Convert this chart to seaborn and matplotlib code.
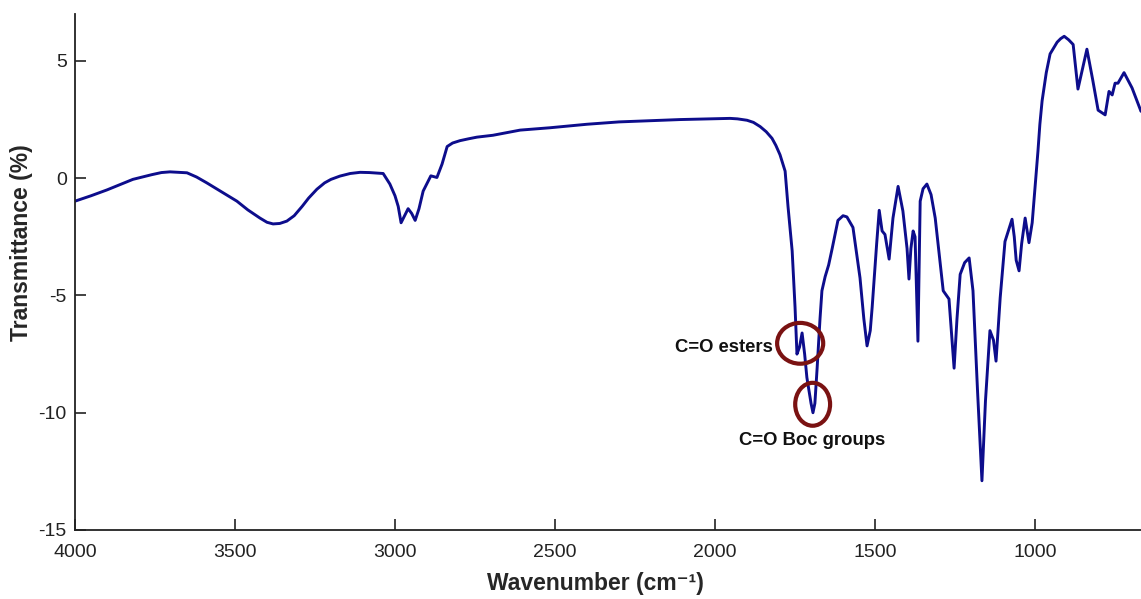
import numpy as np
import pandas as pd
import matplotlib
matplotlib.use("Agg")
import matplotlib.pyplot as plt
from matplotlib.patches import Ellipse
import seaborn as sns

# -----------------------------
# FTIR spectrum
# -----------------------------
wavenumber = [
    4000, 3950, 3900, 3860, 3819, 3760, 3730, 3703, 3650, 3620, 3588, 3540,
    3494, 3460, 3422, 3400, 3381, 3360, 3338, 3315, 3290, 3270, 3244, 3220,
    3200, 3172, 3140, 3109, 3080, 3060, 3037, 3016, 3000, 2990, 2981, 2970,
    2959, 2948, 2937, 2925, 2912, 2888, 2869, 2853, 2837, 2820, 2797, 2770,
    2744, 2694, 2609, 2516, 2400, 2300, 2203, 2109, 2050, 1953, 1930, 1900,
    1880, 1859, 1840, 1822, 1810, 1797, 1790, 1781, 1772, 1759, 1750, 1744,
    1736, 1728, 1720, 1713, 1700, 1694, 1688, 1681, 1672, 1666, 1656, 1645,
    1634, 1616, 1600, 1588, 1569, 1547, 1535, 1525, 1515, 1509, 1495, 1487,
    1478, 1469, 1456, 1444, 1428, 1413, 1400, 1394, 1388, 1381, 1375, 1366,
    1359, 1350, 1338, 1325, 1312, 1300, 1287, 1269, 1253, 1244, 1234, 1220,
    1206, 1194, 1180, 1166, 1155, 1141, 1130, 1122, 1109, 1094, 1072, 1065,
    1059, 1050, 1042, 1031, 1019, 1009, 991, 985, 978, 965, 953, 940,
    931, 920, 909, 895, 881, 866, 838, 820, 803, 781, 769, 759,
    750, 741, 722, 697, 669,
]
transmittance = [
    -0.98, -0.75, -0.5, -0.28, -0.05, 0.15, 0.24, 0.27, 0.23, 0.05, -0.2, -0.6,
    -0.98, -1.35, -1.7, -1.88, -1.95, -1.93, -1.83, -1.6, -1.2, -0.85, -0.47, -0.2,
    -0.05, 0.09, 0.2, 0.25, 0.24, 0.22, 0.2, -0.25, -0.75, -1.2, -1.9, -1.6,
    -1.3, -1.5, -1.8, -1.3, -0.55, 0.1, 0.03, 0.6, 1.35, 1.5, 1.6, 1.68,
    1.75, 1.83, 2.05, 2.15, 2.3, 2.4, 2.45, 2.5, 2.52, 2.55, 2.53, 2.47,
    2.38, 2.2, 1.98, 1.7, 1.4, 1.0, 0.7, 0.3, -1.2, -3.1, -5.5, -7.5,
    -7.2, -6.6, -7.5, -8.5, -9.6, -10.0, -9.6, -8.1, -6.0, -4.8, -4.2, -3.7,
    -3.0, -1.8, -1.6, -1.65, -2.1, -4.25, -6.0, -7.15, -6.5, -5.5, -2.8, -1.37,
    -2.25, -2.4, -3.45, -1.7, -0.35, -1.4, -3.0, -4.3, -3.0, -2.25, -2.5, -6.95,
    -0.98, -0.45, -0.25, -0.7, -1.7, -3.2, -4.8, -5.15, -8.1, -6.0, -4.1, -3.6,
    -3.4, -4.8, -9.0, -12.9, -9.5, -6.5, -6.9, -7.8, -5.1, -2.7, -1.75, -2.5,
    -3.5, -3.95, -2.8, -1.7, -2.75, -1.9, 1.15, 2.3, 3.3, 4.5, 5.3, 5.6,
    5.8, 5.95, 6.05, 5.9, 5.7, 3.8, 5.5, 4.2, 2.9, 2.7, 3.7, 3.55,
    4.05, 4.05, 4.5, 3.85, 2.85,
]

# annotated carbonyl bands
band_labels = ["C=O esters", "C=O Boc groups"]
band_centers = [(1734, -7.04), (1695, -9.64)]
band_sizes = [(144, 1.74), (109, 1.83)]
label_pos = [(1819, -7.2), (1697, -11.17)]

xticks = [4000, 3500, 3000, 2500, 2000, 1500, 1000]
yticks = [-15, -10, -5, 0, 5]

df = pd.DataFrame({"wn": wavenumber, "T": transmittance})

sns.set_style("ticks")
plt.rcParams["font.family"] = ["Liberation Sans", "DejaVu Sans"]
plt.rcParams["axes.unicode_minus"] = False

fig = plt.figure(figsize=(11.41, 5.99), dpi=100)
ax = fig.add_axes([0.0657, 0.1152, 0.9343, 0.8614])

sns.lineplot(data=df, x="wn", y="T", sort=False, color="#0d0d8c",
             linewidth=2.1, ax=ax, solid_joinstyle="round")

# red circles + labels
for c, s in zip(band_centers, band_sizes):
    ax.add_patch(Ellipse(c, s[0], s[1], fill=False, edgecolor="#7a1212",
                         linewidth=3, zorder=5))
ax.text(label_pos[0][0], label_pos[0][1], band_labels[0], ha="right",
        va="center", fontsize=13.3, fontweight="bold", color="#111111")
ax.text(label_pos[1][0], label_pos[1][1], band_labels[1], ha="center",
        va="center", fontsize=13.3, fontweight="bold", color="#111111")

ax.set_xlim(4000, 669)
ax.set_ylim(-15, 7)
ax.set_xticks(xticks)
ax.set_yticks(yticks)
ax.tick_params(direction="in", length=8, width=1.2, labelsize=14,
               colors="#222222")
ax.tick_params(axis="x", pad=10)
ax.tick_params(axis="y", pad=6)
ax.set_xlabel("Wavenumber (cm\u207b\u00b9)", fontsize=16.5, fontweight="bold")
ax.set_ylabel("Transmittance (%)", fontsize=16.5, fontweight="bold")
ax.xaxis.set_label_coords(0.488, -0.081)
ax.yaxis.set_label_coords(-0.039, 0.556)
sns.despine(ax=ax)
for sp in ["left", "bottom"]:
    ax.spines[sp].set_linewidth(1.3)
    ax.spines[sp].set_color("#222222")

fig.savefig("out.png", dpi=100)
